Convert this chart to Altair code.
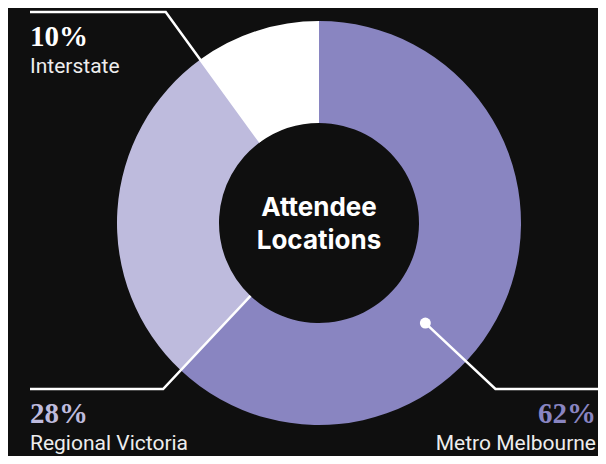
import altair as alt
import pandas as pd
import numpy as np

# ---- data ----
categories = ["Metro Melbourne", "Regional Victoria", "Interstate"]
values = [62, 28, 10]
pct_labels = ["62%", "28%", "10%"]
slice_colors = ["#8985c1", "#bebbdd", "#ffffff"]
center_lines = ["Attendee", "Locations"]

# ---- layout / style ----
W, H = 590, 448
CX, CY = 311, 215
R_OUT, R_IN = 202, 100
BG = "#0f0f0f"

leader_frac = [0.597, 0.0, 0.0]     # where along the slice the leader leaves
leader_r0 = [146, 100, 100]         # radius where leader starts
leader_y = [381, 381, 4]            # y of the horizontal run
leader_xend = [625, 22, 22]         # x end of the horizontal run
leader_dot = [True, False, False]
label_align = ["right", "left", "left"]
label_x = [588, 22, 22]

total = float(sum(values))
starts = np.concatenate([[0], np.cumsum(values)[:-1]])

line_rows, dot_rows, lab_rows = [], [], []
for i, c in enumerate(categories):
    th = np.deg2rad((starts[i] + leader_frac[i] * values[i]) / total * 360.0)
    s, co = np.sin(th), np.cos(th)
    x0, y0 = CX + leader_r0[i] * s, CY - leader_r0[i] * co
    r1 = (CY - leader_y[i]) / co
    x1, y1 = CX + r1 * s, leader_y[i]
    x2, y2 = leader_xend[i], leader_y[i]
    for k, (px, py) in enumerate([(x0, y0), (x1, y1), (x2, y2)]):
        line_rows.append({"category": c, "idx": k, "px": px, "py": py})
    if leader_dot[i]:
        dot_rows.append({"category": c, "px": x0, "py": y0})
    lab_rows.append({"category": c, "pct": pct_labels[i], "name": c,
                     "align": label_align[i], "lx": label_x[i],
                     "py_pct": leader_y[i] + 34, "py_name": leader_y[i] + 61})

slices = pd.DataFrame({"category": categories, "value": values,
                       "order": list(range(len(categories)))})
lines = pd.DataFrame(line_rows)
dots = pd.DataFrame(dot_rows)
labs = pd.DataFrame(lab_rows)
center = pd.DataFrame({"t": center_lines, "py": [208, 241], "px": [CX, CX]})

xs = alt.Scale(domain=[0, W], nice=False, zero=False)
ys = alt.Scale(domain=[0, H], nice=False, zero=False, reverse=True)
cs = alt.Scale(domain=categories, range=slice_colors)

arc = alt.Chart(slices).mark_arc(radius=R_OUT, radius2=R_IN).encode(
    theta=alt.Theta("value:Q", stack=True),
    color=alt.Color("category:N", scale=cs, legend=None),
    order=alt.Order("order:Q"),
    x=alt.value(CX),
    y=alt.value(CY),
)

lead = alt.Chart(lines).mark_line(color="white", strokeWidth=2.5, strokeJoin="miter").encode(
    x=alt.X("px:Q", scale=xs, axis=None),
    y=alt.Y("py:Q", scale=ys, axis=None),
    detail="category:N",
    order=alt.Order("idx:Q"),
)

dot = alt.Chart(dots).mark_circle(color="white", size=120, opacity=1).encode(
    x=alt.X("px:Q", scale=xs, axis=None),
    y=alt.Y("py:Q", scale=ys, axis=None),
)

def label_layers(align):
    d = labs[labs["align"] == align]
    pct = alt.Chart(d).mark_text(align=align, baseline="alphabetic",
                                 font="Liberation Serif", fontWeight="bold",
                                 fontSize=29).encode(
        x=alt.X("lx:Q", scale=xs, axis=None),
        y=alt.Y("py_pct:Q", scale=ys, axis=None),
        text="pct:N",
        color=alt.Color("category:N", scale=cs, legend=None),
    )
    name = alt.Chart(d).mark_text(align=align, baseline="alphabetic",
                                  font="Roboto", fontSize=21,
                                  color="#ededed").encode(
        x=alt.X("lx:Q", scale=xs, axis=None),
        y=alt.Y("py_name:Q", scale=ys, axis=None),
        text="name:N",
    )
    return [pct, name]

ctext = alt.Chart(center).mark_text(align="center", baseline="alphabetic",
                                    font="Inter", fontWeight="bold",
                                    fontSize=26, color="white").encode(
    x=alt.X("px:Q", scale=xs, axis=None),
    y=alt.Y("py:Q", scale=ys, axis=None),
    text="t:N",
)

chart = alt.layer(
    arc, lead, dot, *label_layers("left"), *label_layers("right"), ctext
).properties(
    width=W, height=H,
    autosize=alt.AutoSizeParams(type="none"),
    padding=0,
    background=BG,
).configure_view(stroke=None)

chart.save("out.html", embed_options={"renderer": "svg", "actions": False})
